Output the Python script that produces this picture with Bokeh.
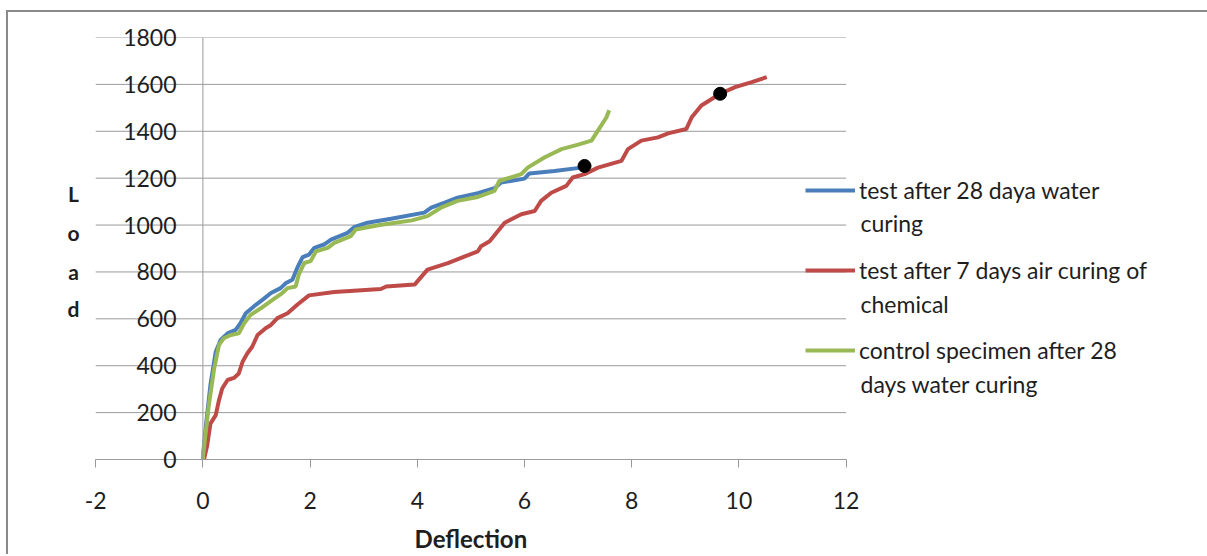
from bokeh.plotting import figure
from bokeh.models import (Range1d, FixedTicker, Span, Legend, LegendItem, Label,
                          LinearAxis)
from bokeh.embed import file_html
from bokeh.resources import INLINE

# ---------------- data ----------------
blue_x = [0, 0.02, 0.05, 0.14, 0.24, 0.33, 0.46, 0.61, 0.70, 0.80, 0.95, 1.11, 1.27, 1.45,
          1.55, 1.67, 1.76, 1.86, 1.98, 2.08, 2.26, 2.39, 2.70, 2.82, 3.07, 3.51, 4.13,
          4.26, 4.50, 4.75, 5.13, 5.44, 5.56, 6.00, 6.09, 6.56, 7.06, 7.15]
blue_y = [0, 60, 131, 317, 460, 510, 538, 553, 581, 624, 653, 681, 710, 731,
          753, 767, 817, 863, 874, 903, 917, 938, 967, 991, 1010, 1027, 1053,
          1074, 1095, 1117, 1136, 1157, 1181, 1198, 1220, 1231, 1245, 1250]

red_x = [0.02, 0.08, 0.14, 0.24, 0.30, 0.36, 0.46, 0.58, 0.67, 0.74, 0.83, 0.92, 1.02,
         1.17, 1.27, 1.39, 1.58, 1.76, 1.98, 2.45, 2.89, 3.32, 3.42, 3.95, 4.19, 4.57,
         5.13, 5.19, 5.35, 5.63, 5.94, 6.19, 6.31, 6.50, 6.78, 6.90, 7.12, 7.37, 7.81,
         7.93, 8.18, 8.49, 8.68, 9.02, 9.12, 9.30, 9.65, 9.93, 10.24, 10.52]
red_y = [0, 60, 153, 189, 253, 303, 339, 348, 367, 417, 453, 481, 531,
         560, 574, 603, 624, 660, 700, 714, 721, 727, 738, 746, 810, 838,
         888, 910, 931, 1010, 1046, 1060, 1103, 1138, 1167, 1203, 1217, 1245, 1274,
         1324, 1360, 1374, 1391, 1410, 1460, 1510, 1560, 1588, 1610, 1631]

green_x = [0, 0.01, 0.11, 0.21, 0.30, 0.39, 0.52, 0.67, 0.77, 0.89, 1.08, 1.30, 1.48,
           1.58, 1.73, 1.79, 1.89, 2.01, 2.11, 2.33, 2.45, 2.76, 2.85, 3.30, 3.90, 4.19,
           4.44, 4.75, 5.13, 5.44, 5.53, 5.94, 6.06, 6.37, 6.69, 7.00, 7.25, 7.37, 7.53, 7.58]
green_y = [0, 31, 231, 388, 489, 517, 531, 538, 581, 617, 645, 681, 710,
           731, 738, 789, 838, 846, 888, 903, 924, 953, 981, 1000, 1020, 1038,
           1074, 1103, 1120, 1146, 1188, 1217, 1245, 1288, 1324, 1343, 1360, 1403, 1460, 1490]

dot_x = [7.12, 9.65]
dot_y = [1252, 1560]

series_names = ["test after 28 daya water", "test after 7 days air curing of",
                "control specimen after 28"]
series_second_lines = ["curing", "chemical", "days water curing"]
series_colors = ["#4A7EBB", "#BE4B48", "#98B954"]

x_ticks = [-2, 0, 2, 4, 6, 8, 10, 12]
x_tick_labels = {t: str(t) for t in x_ticks}
y_ticks = [0, 200, 400, 600, 800, 1000, 1200, 1400, 1600, 1800]
y_title_letters = ["L", "o", "a", "d"]
x_title = "Deflection"
x_title_pos = (x_ticks[0] + x_ticks[-1]) / 2

FONT = "Lato"
TEXT = "#1e1e1e"
GRID = "#9a9a9a"

# ---------------- figure ----------------
p = figure(width=1199, height=542, output_backend="svg", toolbar_location=None,
           x_range=Range1d(-2.75, 18.50), y_range=Range1d(0, 1800),
           min_border_left=47, min_border_right=15, min_border_top=25,
           min_border_bottom=97)
p.styles = {"margin-left": "6px", "margin-top": "10px",
            "border-left": "2px solid #8a8a8a", "border-top": "2px solid #8a8a8a",
            "box-sizing": "content-box"}
p.outline_line_color = None
p.background_fill_color = "white"
p.border_fill_color = "white"
p.xgrid.visible = False
p.ygrid.visible = False

# horizontal gridlines over the x-axis window only
grid = p.segment(x0=[x_ticks[0]] * len(y_ticks), x1=[x_ticks[-1]] * len(y_ticks),
                 y0=y_ticks, y1=y_ticks, line_color=GRID, line_width=1)
grid.level = "underlay"

# x axis
xa = p.xaxis[0]
xa.ticker = FixedTicker(ticks=x_ticks)
xa.major_label_overrides = x_tick_labels
xa.bounds = (x_ticks[0], x_ticks[-1])
xa.axis_line_color = GRID
xa.major_tick_line_color = GRID
xa.major_tick_out = 8
xa.major_tick_in = 0
xa.minor_tick_line_color = None
xa.major_label_text_font = FONT
xa.major_label_text_font_size = "23px"
xa.major_label_text_color = TEXT
xa.major_label_standoff = 24

# x-axis title, centred under the bounded axis
xt = LinearAxis(ticker=FixedTicker(ticks=[x_title_pos]),
                major_label_overrides={x_title_pos: x_title},
                bounds=(x_ticks[0], x_ticks[-1]),
                axis_line_color=None, major_tick_line_color=None,
                minor_tick_line_color=None, major_tick_out=0, major_tick_in=0,
                major_label_standoff=12, major_label_text_font=FONT,
                major_label_text_font_size="24px", major_label_text_font_style="bold",
                major_label_text_color=TEXT)
p.add_layout(xt, "below")

# y axis: labels pushed in next to the axis line at x = 0
ya = p.yaxis[0]
ya.ticker = FixedTicker(ticks=y_ticks)
ya.axis_line_color = None
ya.major_tick_line_color = None
ya.major_tick_out = 0
ya.major_tick_in = 0
ya.minor_tick_line_color = None
ya.major_label_text_font = FONT
ya.major_label_text_font_size = "23px"
ya.major_label_text_color = TEXT
ya.major_label_standoff = -121

p.add_layout(Span(location=0, dimension="height", line_color=GRID, line_width=1))

# series
rb = p.line(blue_x, blue_y, line_color=series_colors[0], line_width=4)
rr = p.line(red_x, red_y, line_color=series_colors[1], line_width=4)
rg = p.line(green_x, green_y, line_color=series_colors[2], line_width=4)
p.scatter(dot_x, dot_y, size=13, color="black")

# legend (first line of each entry)
legend = Legend(items=[LegendItem(label=series_names[0], renderers=[rb]),
                       LegendItem(label=series_names[1], renderers=[rr]),
                       LegendItem(label=series_names[2], renderers=[rg])],
                location=(750, 94), orientation="vertical",
                padding=0, margin=0, spacing=50, glyph_width=50, glyph_height=30,
                label_height=30, label_standoff=4,
                label_text_font=FONT, label_text_font_size="23px",
                label_text_color=TEXT, border_line_color=None,
                background_fill_alpha=0)
p.add_layout(legend)

# second lines of the legend labels
for txt, yy in zip(series_second_lines, [237, 156, 76]):
    p.add_layout(Label(x=805, y=yy, x_units="screen", y_units="screen", text=txt,
                       text_font=FONT, text_font_size="23px", text_color=TEXT,
                       text_baseline="alphabetic", text_align="left"))

# stacked y-axis title
for letter, yy in zip(y_title_letters, [265.6, 227.3, 188.3, 150.6]):
    p.add_layout(Label(x=18, y=yy, x_units="screen", y_units="screen", text=letter,
                       text_font=FONT, text_font_size="21px", text_font_style="bold",
                       text_color=TEXT, text_baseline="alphabetic", text_align="center"))

open("out.html", "w").write(file_html(p, INLINE))
